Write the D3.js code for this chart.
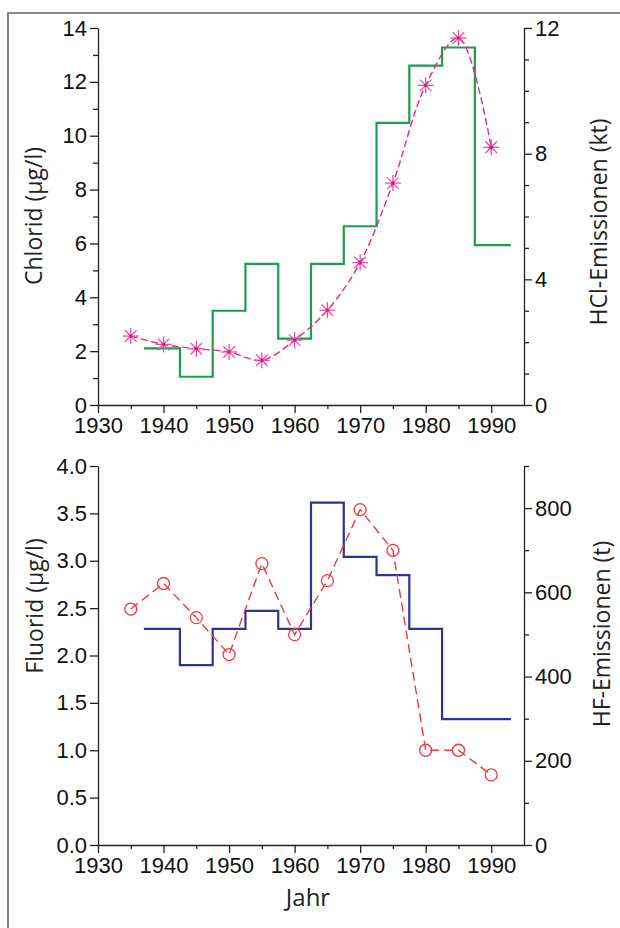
<!DOCTYPE html>
<html><head><meta charset="utf-8">
<script src="https://cdn.jsdelivr.net/npm/d3@7/dist/d3.min.js"></script>
<style>
html,body{margin:0;padding:0;background:#fff;}
svg{display:block;}
.tick text{font-family:"Liberation Sans",Arial,sans-serif;font-size:22px;fill:#111;}
.title{font-family:"Open Sans","Noto Sans",sans-serif;font-size:23px;fill:#222;}
</style></head>
<body>
<svg id="c" width="620" height="928"></svg>
<script>
// ---- data ----
const years = [1935,1940,1945,1950,1955,1960,1965,1970,1975,1980,1985,1990];
const chlorid = [2.56,2.25,2.09,1.97,1.66,2.41,3.52,5.29,8.24,11.87,13.63,9.57];      // µg/l
const hclEdges = [1937,1942.5,1947.5,1952.5,1957.5,1962.5,1967.5,1972.5,1977.5,1982.5,1987.5,1993];
const hcl = [1.8,0.9,3.0,4.49,2.11,4.49,5.69,8.98,10.8,11.38,5.09];                     // kt
const fluorid = [2.49,2.76,2.40,2.01,2.97,2.22,2.79,3.54,3.11,1.00,1.00,0.74];         // µg/l
const hfEdges = [1937,1942.5,1947.5,1952.5,1957.5,1962.5,1967.5,1972.5,1977.5,1982.5,1993];
const hf = [513,427,513,556,513,813,684,641,513,299];                                   // t
const xTicks = [1930,1940,1950,1960,1970,1980,1990];

const svg = d3.select("#c");

// frame
svg.append("path").attr("d","M8,928V13H620").attr("fill","none").attr("stroke","#666").attr("stroke-width",1.6);

const X0 = 98, X1 = 524;
const x = d3.scaleLinear().domain([1930,1995]).range([X0,X1]);

function panel(o){
  const g = svg.append("g");
  const yL = d3.scaleLinear().domain(o.lDom).range([o.bottom,o.top]);
  const yR = d3.scaleLinear().domain(o.rDom).range([o.bottom,o.top]);
  const ax = "#222";
  function style(sel){
    sel.select(".domain").attr("stroke",ax).attr("stroke-width",1.3);
    sel.selectAll(".tick line").attr("stroke",ax).attr("stroke-width",1.3);
  }
  // minor ticks
  g.append("g").attr("transform",`translate(0,${o.bottom})`)
    .call(d3.axisBottom(x).tickValues(d3.range(1935,1995,10)).tickSize(4).tickFormat(""))
    .call(style).call(s=>s.select(".domain").remove());
  g.append("g").attr("transform",`translate(0,${o.bottom})`)
    .call(d3.axisBottom(x).tickValues(xTicks).tickSize(8).tickSizeOuter(0).tickPadding(4).tickFormat(d3.format("d")))
    .call(style);
  if(o.lMinor){
    g.append("g").attr("transform",`translate(${X0},0)`)
      .call(d3.axisLeft(yL).tickValues(o.lMinor).tickSize(5).tickFormat(""))
      .call(style).call(s=>s.select(".domain").remove());
  }
  g.append("g").attr("transform",`translate(${X0},0)`)
    .call(d3.axisLeft(yL).tickValues(o.lTicks).tickSize(8).tickSizeOuter(0).tickPadding(3).tickFormat(o.lFmt))
    .call(style);
  g.append("g").attr("transform",`translate(${X1},0)`)
    .call(d3.axisRight(yR).tickValues(o.rMinor).tickSize(5).tickFormat(""))
    .call(style).call(s=>s.select(".domain").remove());
  g.append("g").attr("transform",`translate(${X1},0)`)
    .call(d3.axisRight(yR).tickValues(o.rTicks).tickSize(8).tickSizeOuter(0).tickPadding(3).tickFormat(d3.format("d")))
    .call(style);
  g.selectAll(".tick text").attr("fill","#111");

  // step series (right axis)
  const stepPts = o.edges.map((e,i)=>[e, o.step[Math.min(i,o.step.length-1)]]);
  g.append("path").datum(stepPts)
    .attr("d", d3.line().x(d=>x(d[0])).y(d=>yR(d[1])).curve(d3.curveStepAfter))
    .attr("fill","none").attr("stroke",o.stepColor).attr("stroke-width",2.2);

  // point series (left axis)
  const pts = years.map((yr,i)=>[yr,o.pts[i]]);
  g.append("path").datum(pts)
    .attr("d", d3.line().x(d=>x(d[0])).y(d=>yL(d[1])).curve(o.curve))
    .attr("fill","none").attr("stroke",o.ptColor).attr("stroke-width",1.4).attr("stroke-dasharray",o.dash);
  const m = g.append("g").selectAll("g").data(pts).join("g")
    .attr("transform",d=>`translate(${x(d[0])},${yL(d[1])})`);
  o.marker(m);

  // titles
  svg.append("text").attr("class","title").attr("text-anchor","middle")
    .attr("transform",`translate(${o.lTitleX},${o.lTitleY}) rotate(-90)`).text(o.lTitle);
  svg.append("text").attr("class","title").attr("text-anchor","middle")
    .attr("transform",`translate(${o.rTitleX},${o.rTitleY}) rotate(-90)`).text(o.rTitle);
}

panel({
  top:28, bottom:405,
  lDom:[0,14], lTicks:d3.range(0,15,2), lMinor:d3.range(1,14,2), lFmt:d3.format("d"),
  rDom:[0,12], rTicks:[0,4,8,12], rMinor:d3.range(1,12,1).filter(v=>v%4),
  edges:hclEdges, step:hcl, stepColor:"#1a9f4e",
  pts:chlorid, ptColor:"#e5288d", dash:"7,3.5", curve:d3.curveCatmullRom.alpha(0.5),
  marker:m=>{
    const r=8, c="#ee4fa2";
    [[0,-r,0,r],[-r,0,r,0],[-r*0.72,-r*0.72,r*0.72,r*0.72],[-r*0.72,r*0.72,r*0.72,-r*0.72]].forEach(l=>{
      m.append("line").attr("x1",l[0]).attr("y1",l[1]).attr("x2",l[2]).attr("y2",l[3])
        .attr("stroke",c).attr("stroke-width",1.3);
    });
    m.append("circle").attr("r",1.8).attr("fill","#d81b7e");
  },
  lTitle:"Chlorid (µg/l)", lTitleX:42, lTitleY:216,
  rTitle:"HCl-Emissionen (kt)", rTitleX:607, rTitleY:222
});

panel({
  top:466, bottom:845,
  lDom:[0,4], lTicks:d3.range(0,4.01,0.5), lMinor:null, lFmt:d3.format(".1f"),
  rDom:[0,900], rTicks:[0,200,400,600,800], rMinor:[100,300,500,700,900],
  edges:hfEdges, step:hf, stepColor:"#2e3591",
  pts:fluorid, ptColor:"#ee3a3f", dash:"9,5", curve:d3.curveLinear,
  marker:m=>{
    m.append("circle").attr("r",6).attr("fill","#fff").attr("fill-opacity",0)
      .attr("stroke","#ee3a3f").attr("stroke-width",1.3);
  },
  lTitle:"Fluorid (µg/l)", lTitleX:43, lTitleY:606,
  rTitle:"HF-Emissionen (t)", rTitleX:610, rTitleY:634
});

svg.append("text").attr("class","title").attr("text-anchor","middle")
  .style("font-size","24px").attr("x",308).attr("y",906).text("Jahr");
</script>
</body></html>
